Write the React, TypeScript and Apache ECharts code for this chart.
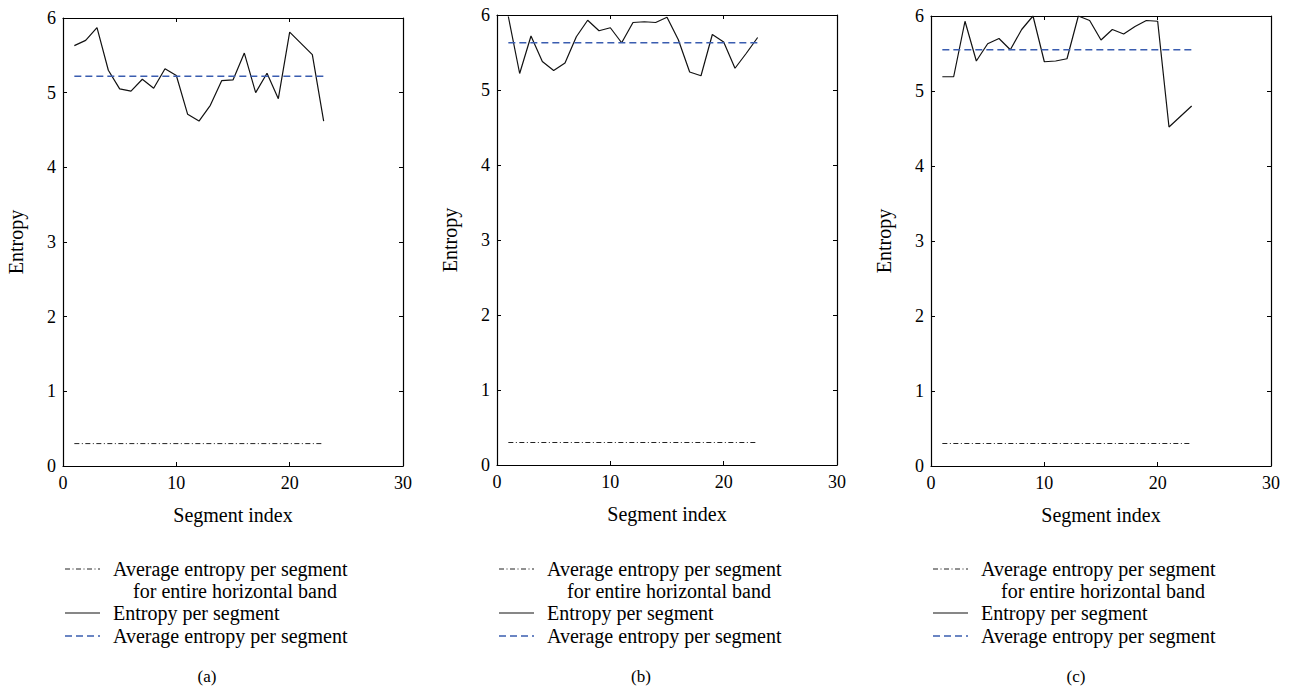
import React, { useEffect, useRef } from "react";
import * as echarts from "echarts";

const segmentIndex = [1, 2, 3, 4, 5, 6, 7, 8, 9, 10, 11, 12, 13, 14, 15, 16, 17, 18, 19, 20, 21, 22, 23];
const entropyA = [5.63, 5.70, 5.87, 5.30, 5.05, 5.02, 5.18, 5.06, 5.32, 5.23, 4.71, 4.62, 4.83, 5.16, 5.17, 5.53, 5.00, 5.26, 4.92, 5.81, 5.66, 5.51, 4.62];
const entropyB = [5.98, 5.22, 5.72, 5.38, 5.26, 5.36, 5.71, 5.93, 5.79, 5.83, 5.63, 5.90, 5.91, 5.90, 5.97, 5.67, 5.24, 5.19, 5.74, 5.64, 5.29, 5.49, 5.70];
const entropyC = [5.19, 5.19, 5.93, 5.40, 5.63, 5.70, 5.55, 5.82, 6.00, 5.39, 5.40, 5.43, 6.00, 5.94, 5.68, 5.82, 5.76, 5.86, 5.94, 5.93, 4.52, 4.66, 4.80];
const averagePerSegment = [5.22, 5.63, 5.55];
const bandAverage = [0.3, 0.3, 0.3];
const panelLabels = ["(a)", "(b)", "(c)"];
const xTicks = [0, 10, 20, 30];
const yTicks = [0, 1, 2, 3, 4, 5, 6];
const legendLabels = [
  "Average entropy per segment",
  "for entire horizontal band",
  "Entropy per segment",
  "Average entropy per segment",
];

const FONT = "Liberation Serif";
const grids = [
  { left: 63, top: 18, width: 340, height: 448 },
  { left: 497, top: 15, width: 340, height: 450 },
  { left: 931, top: 16, width: 340, height: 450 },
];
const legendX = [65, 499, 933];
const panelLabelX = [207, 641, 1076];

export default function App() {
  const ref = useRef<HTMLDivElement>(null);
  useEffect(() => {
    if (!ref.current) return;
    const chart = echarts.init(ref.current, null, { renderer: "svg" });
    const series: any[] = [];
    const xAxes: any[] = [];
    const yAxes: any[] = [];
    const graphics: any[] = [];
    const entropies = [entropyA, entropyB, entropyC];
    const xMin = xTicks[0];
    const xMax = xTicks[xTicks.length - 1];
    const yMin = yTicks[0];
    const yMax = yTicks[yTicks.length - 1];
    const first = segmentIndex[0];
    const last = segmentIndex[segmentIndex.length - 1];

    grids.forEach((g, i) => {
      const tickStyle = { show: true, inside: true, length: 4, lineStyle: { color: "#000", width: 1 } };
      const lineStyle = { show: true, onZero: false, lineStyle: { color: "#000", width: 1.2 } };
      xAxes.push({
        type: "value", gridIndex: i, min: xMin, max: xMax, interval: 10, position: "bottom",
        axisLine: lineStyle, axisTick: tickStyle, splitLine: { show: false },
        axisLabel: { color: "#000", fontFamily: FONT, fontSize: 18, margin: 8 },
        name: "Segment index", nameLocation: "middle", nameGap: 39,
        nameTextStyle: { color: "#000", fontFamily: FONT, fontSize: 20 },
      });
      xAxes.push({
        type: "value", gridIndex: i, min: xMin, max: xMax, interval: 10, position: "top",
        axisLine: lineStyle, axisTick: tickStyle, splitLine: { show: false }, axisLabel: { show: false },
      });
      yAxes.push({
        type: "value", gridIndex: i, min: yMin, max: yMax, interval: 1, position: "left",
        axisLine: lineStyle, axisTick: tickStyle, splitLine: { show: false },
        axisLabel: { color: "#000", fontFamily: FONT, fontSize: 18, margin: 7 },
        name: "Entropy", nameLocation: "middle", nameGap: 37,
        nameTextStyle: { color: "#000", fontFamily: FONT, fontSize: 20 },
      });
      yAxes.push({
        type: "value", gridIndex: i, min: yMin, max: yMax, interval: 1, position: "right",
        axisLine: lineStyle, axisTick: tickStyle, splitLine: { show: false }, axisLabel: { show: false },
      });
      const xi = i * 2;
      const yi = i * 2;
      series.push({
        type: "line", name: "Average entropy per segment for entire horizontal band",
        xAxisIndex: xi, yAxisIndex: yi, symbol: "none", silent: true,
        data: [[first, bandAverage[i]], [last, bandAverage[i]]],
        lineStyle: { color: "#222", width: 1, type: [5, 2.5, 1, 2.5] },
      });
      series.push({
        type: "line", name: "Entropy per segment",
        xAxisIndex: xi, yAxisIndex: yi, symbol: "none", silent: true,
        data: segmentIndex.map((s, k) => [s, entropies[i][k]]),
        lineStyle: { color: "#111", width: 1.2 },
      });
      series.push({
        type: "line", name: "Average entropy per segment",
        xAxisIndex: xi, yAxisIndex: yi, symbol: "none", silent: true,
        data: [[first, averagePerSegment[i]], [last, averagePerSegment[i]]],
        lineStyle: { color: "#3a5db0", width: 1.3, type: [7, 4] },
      });

      const lx = legendX[i];
      const textX = lx + 48;
      const rows = [569, 591, 613, 636];
      const font = `20px '${FONT}'`;
      graphics.push({
        type: "line", shape: { x1: lx, y1: rows[0], x2: lx + 35, y2: rows[0] },
        style: { stroke: "#222", lineWidth: 1, lineDash: [5, 2.5, 1, 2.5] },
      });
      graphics.push({
        type: "line", shape: { x1: lx, y1: rows[2], x2: lx + 35, y2: rows[2] },
        style: { stroke: "#111", lineWidth: 1.2 },
      });
      graphics.push({
        type: "line", shape: { x1: lx, y1: rows[3], x2: lx + 35, y2: rows[3] },
        style: { stroke: "#3a5db0", lineWidth: 1.3, lineDash: [7, 4] },
      });
      graphics.push({
        type: "text", x: textX, y: rows[0],
        style: { text: legendLabels[0], font, fill: "#000", verticalAlign: "middle" },
      });
      graphics.push({
        type: "text", x: textX + 122, y: rows[1],
        style: { text: legendLabels[1], font, fill: "#000", verticalAlign: "middle", align: "center" },
      });
      graphics.push({
        type: "text", x: textX, y: rows[2],
        style: { text: legendLabels[2], font, fill: "#000", verticalAlign: "middle" },
      });
      graphics.push({
        type: "text", x: textX, y: rows[3],
        style: { text: legendLabels[3], font, fill: "#000", verticalAlign: "middle" },
      });
      graphics.push({
        type: "text", x: panelLabelX[i], y: 676,
        style: { text: panelLabels[i], font: `17px '${FONT}'`, fill: "#000", verticalAlign: "middle", align: "center" },
      });
    });

    chart.setOption({
      animation: false,
      backgroundColor: "#fff",
      grid: grids.map((g) => ({ ...g, containLabel: false })),
      xAxis: xAxes,
      yAxis: yAxes,
      series,
      graphic: graphics,
    });
    return () => chart.dispose();
  }, []);
  return <div ref={ref} style={{ position: "fixed", left: 0, top: 0, width: 1291, height: 689 }} />;
}
